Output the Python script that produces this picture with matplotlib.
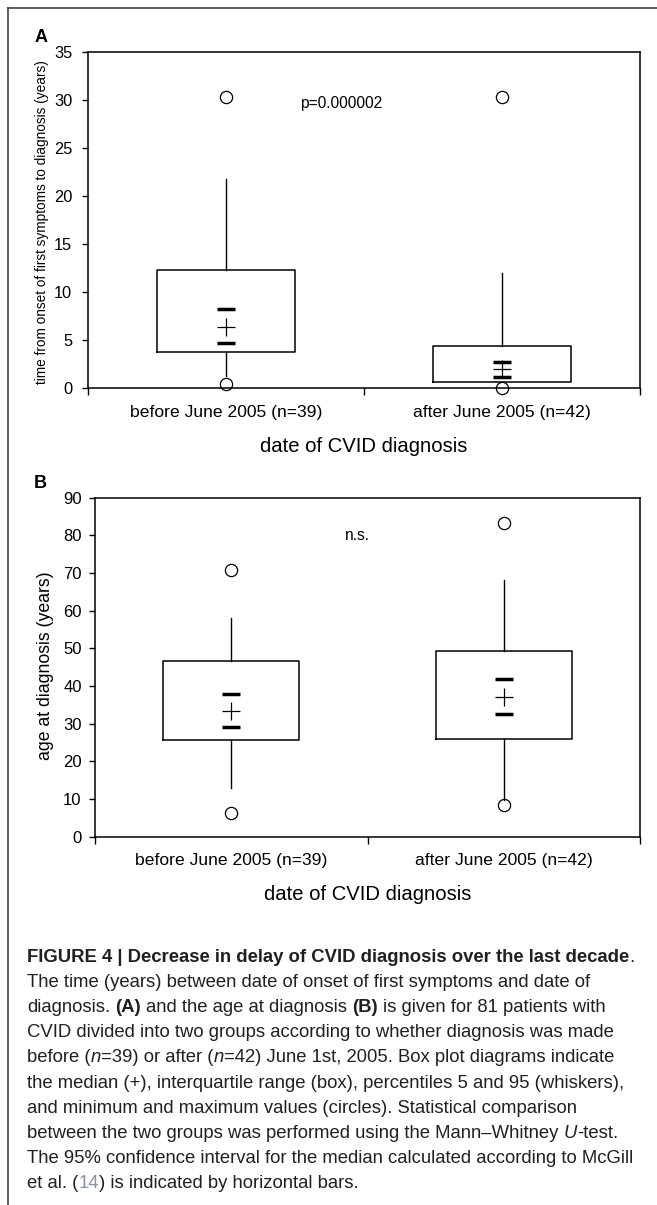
import matplotlib
matplotlib.use("Agg")
import matplotlib.pyplot as plt
from matplotlib.lines import Line2D

plt.rcParams['font.family'] = ['Liberation Sans', 'DejaVu Sans']

W, H = 657, 1205

groups = ["before June 2005 (n=39)", "after June 2005 (n=42)"]
positions = [0.5, 1.5]

# panel A: time from onset of first symptoms to diagnosis (years)
a_q1 = [3.7, 0.66]
a_q3 = [12.3, 4.4]
a_med = [6.4, 1.95]
a_ci_lo = [4.65, 1.1]
a_ci_hi = [8.2, 2.7]
a_p5 = [1.25, 0.66]
a_p95 = [21.8, 12.0]
a_min = [0.38, 0.03]
a_max = [30.35, 30.3]

# panel B: age at diagnosis (years)
b_q1 = [25.75, 25.85]
b_q3 = [46.6, 49.4]
b_med = [33.45, 37.2]
b_ci_lo = [29.2, 32.5]
b_ci_hi = [37.9, 41.9]
b_p5 = [13.0, 9.8]
b_p95 = [58.0, 68.1]
b_min = [6.4, 8.4]
b_max = [70.8, 83.4]

fig = plt.figure(figsize=(W / 100, H / 100), dpi=100)


def px_axes(left, top, right, bottom):
    return fig.add_axes([left / W, 1 - bottom / H, (right - left) / W, (bottom - top) / H])


def draw_panel(ax, q1, q3, med, lo, hi, p5, p95, vmin, vmax):
    stats = []
    for i in range(len(q1)):
        stats.append(dict(med=med[i], q1=q1[i], q3=q3[i], whislo=p5[i], whishi=p95[i],
                          fliers=[vmin[i], vmax[i]]))
    ax.bxp(stats, positions=positions, widths=0.5, showcaps=False,
           boxprops=dict(color='black', linewidth=1.1),
           whiskerprops=dict(color='black', linewidth=1.0),
           medianprops=dict(visible=False),
           flierprops=dict(marker='o', markersize=8.8, markerfacecolor='none',
                           markeredgecolor='black', markeredgewidth=0.9, clip_on=False))
    # median (+) and 95% CI of the median (thick bars)
    ax.plot(positions, med, linestyle='none', marker='+', markersize=13,
            markeredgewidth=0.9, color='black')
    ax.plot(positions, lo, linestyle='none', marker='_', markersize=13,
            markeredgewidth=2.5, color='black')
    ax.plot(positions, hi, linestyle='none', marker='_', markersize=13,
            markeredgewidth=2.5, color='black')
    ax.set_xlim(0, 2)
    ax.set_xticks([0, 1, 2])
    ax.set_xticklabels([])
    ax.set_xticks(positions, minor=True)
    ax.set_xticklabels(groups, minor=True, fontsize=12.6)
    ax.tick_params(axis='x', which='major', direction='out', length=5, width=1.0)
    ax.tick_params(axis='x', which='minor', length=0, pad=12)
    for s in ax.spines.values():
        s.set_linewidth(1.1)


# ---- panel A
axA = px_axes(88, 52, 640, 388)
draw_panel(axA, a_q1, a_q3, a_med, a_ci_lo, a_ci_hi, a_p5, a_p95, a_min, a_max)
axA.set_ylim(0, 35)
axA.set_yticks(range(0, 36, 5))
axA.tick_params(axis='y', direction='out', length=4.3, width=1.0, pad=7, labelsize=11.8)
axA.text(0.918, 29.6, "p=0.000002", ha='center', va='center', fontsize=11.2)

fig.text(42 / W, 1 - 222 / H, "time from onset of first symptoms to diagnosis (years)",
         rotation=90, ha='center', va='center', fontsize=9.8)
fig.text(364 / W, 1 - 447 / H, "date of CVID diagnosis", ha='center', va='center', fontsize=14.6)
fig.text(40.6 / W, 1 - 37 / H, "A", ha='center', va='center', fontsize=13, fontweight='bold')

# ---- panel B
axB = px_axes(95, 497.7, 640, 836.7)
draw_panel(axB, b_q1, b_q3, b_med, b_ci_lo, b_ci_hi, b_p5, b_p95, b_min, b_max)
axB.set_ylim(0, 90)
axB.set_yticks(range(0, 91, 10))
axB.tick_params(axis='y', direction='out', length=4.3, width=1.0, pad=5.3, labelsize=12)
axB.text(0.963, 80, "n.s.", ha='center', va='center', fontsize=11.2)

fig.text(46 / W, 1 - 666 / H, "age at diagnosis (years)",
         rotation=90, ha='center', va='center', fontsize=12.7)
fig.text(367.5 / W, 1 - 894 / H, "date of CVID diagnosis", ha='center', va='center', fontsize=14.6)
fig.text(40.6 / W, 1 - 483 / H, "B", ha='center', va='center', fontsize=13, fontweight='bold')

# frame around the figure (left and top)
fig.add_artist(Line2D([7.5 / W, 7.5 / W], [0, 1 - 8 / H], color='#333333', linewidth=1.1))
fig.add_artist(Line2D([7.5 / W, 1], [1 - 8 / H, 1 - 8 / H], color='#333333', linewidth=1.1))

# ---- caption
renderer = fig.canvas.get_renderer()
cap_color = '#231f20'
REG = dict(color=cap_color)
BOLD = dict(color=cap_color, fontweight='bold')
ITAL = dict(color=cap_color, style='italic')
REF = dict(color='#8a93a0')

caption = [
    [("FIGURE 4 | Decrease in delay of CVID diagnosis over the last decade", BOLD), (".", REG)],
    [("The time (years) between date of onset of first symptoms and date of", REG)],
    [("diagnosis. ", REG), ("(A)", BOLD), (" and the age at diagnosis ", REG), ("(B)", BOLD),
     (" is given for 81 patients with", REG)],
    [("CVID divided into two groups according to whether diagnosis was made", REG)],
    [("before (", REG), ("n", ITAL), ("=39) or after (", REG), ("n", ITAL),
     ("=42) June 1st, 2005. Box plot diagrams indicate", REG)],
    [("the median (+), interquartile range (box), percentiles 5 and 95 (whiskers),", REG)],
    [("and minimum and maximum values (circles). Statistical comparison", REG)],
    [("between the two groups was performed using the Mann\u2013Whitney ", REG), ("U", ITAL),
     ("-test.", REG)],
    [("The 95% confidence interval for the median calculated according to McGill", REG)],
    [("et al. (", REG), ("14", REF), (") is indicated by horizontal bars.", REG)],
]


def text_width(s, size, style):
    t = fig.text(0, 0, s, fontsize=size, **style)
    w = t.get_window_extent(renderer).width
    t.remove()
    return w


# fit font size so the widest caption line spans the text column
probe = text_width(caption[8][0][0], 12, REG)
cap_size = 12 * 612 / probe
space_w = text_width("x x", cap_size, REG) - text_width("xx", cap_size, REG)

y0 = 957
for i, pieces in enumerate(caption):
    x = 27
    y = y0 + i * 25.2
    for s, style in pieces:
        lead = len(s) - len(s.lstrip(' '))
        trail = len(s) - len(s.rstrip(' '))
        x += lead * space_w
        core = s.strip(' ')
        if core:
            t = fig.text(x / W, 1 - y / H, core, fontsize=cap_size, ha='left', va='center', **style)
            x += t.get_window_extent(renderer).width
        x += trail * space_w

fig.savefig("out.png", dpi=100)
